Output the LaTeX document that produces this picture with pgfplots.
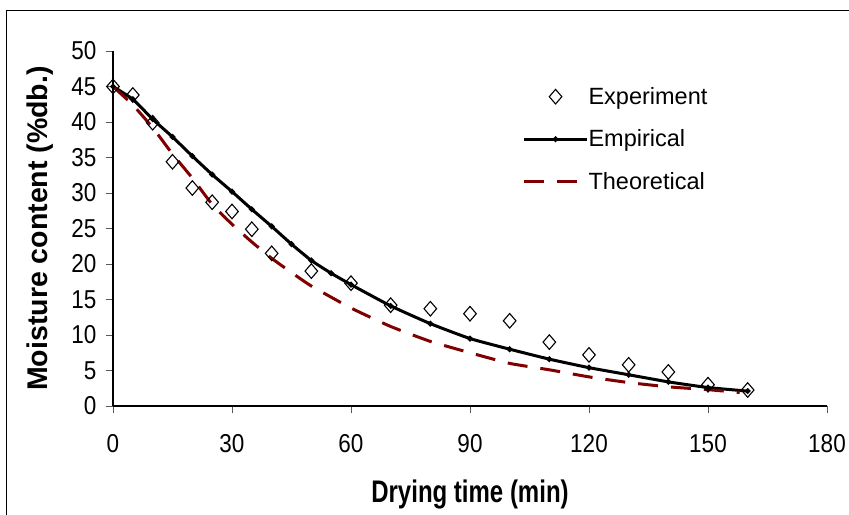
\documentclass[border=0pt]{standalone}
\usepackage{pgfplots}
\pgfplotsset{compat=1.18}
\usepackage{fontspec}
\setmainfont{Liberation Sans}
\definecolor{theo}{RGB}{128,0,0}
\begin{document}
\begin{tikzpicture}
\useasboundingbox (0bp,0bp) rectangle (849bp,-515bp);
\draw[line width=1.3bp] (6.5bp,-515bp) -- (6.5bp,-10.5bp) -- (849bp,-10.5bp);
\begin{axis}[
  at={(113bp,-406bp)}, anchor=south west,
  scale only axis, width=714bp, height=355bp,
  xmin=0, xmax=180, ymin=0, ymax=50,
  xtick={0,30,...,180}, ytick={0,5,...,50},
  axis lines=left, axis line style={-, line width=1.2bp, black},
  tick align=outside, major tick length=7bp,
  tick style={line width=1bp, gray!70!black},
  /pgf/number format/assume math mode=true,
  ticklabel style={font=\fontsize{22.5bp}{26bp}\selectfont, yscale=1.15},
  xticklabel style={yshift=-15.5bp},
  yticklabel style={xshift=-6bp},
  xlabel={Drying time (min)},
  ylabel={Moisture content (\%db.)},
  xlabel style={font=\bfseries\fontsize{24bp}{28bp}\selectfont, at={(axis description cs:0.5,-0.248)}, anchor=center, yscale=1.3},
  ylabel style={font=\bfseries\fontsize{28.5bp}{32bp}\selectfont, at={(axis description cs:-0.1022,0.5)}, anchor=center},
  legend image code/.code={\draw[mark repeat=2,mark phase=2,#1] plot coordinates {(0bp,0bp) (31.5bp,0bp) (63bp,0bp)};},
  legend style={at={(axis cs:103.2,44.9)}, anchor=north west, draw=none, fill=none,
    inner sep=0pt, row sep=24bp, font=\fontsize{23.5bp}{26bp}\selectfont,
    nodes={inner sep=0pt, anchor=west}, /tikz/column 2/.style={column sep=5bp}},
  legend cell align=left,
  clip=false,
]
\addplot[only marks, mark=diamond, mark size=7.3bp, mark options={xscale=1.15, line width=1.1bp, black, fill=white}] coordinates {
(0,45) (5,43.8) (10,39.9) (15,34.4) (20,30.7) (25,28.7) (30,27.4) (35,24.9) (40,21.5) (50,19.0) (60,17.3) (70,14.2) (80,13.7) (90,13.0) (100,12.0) (110,9.0) (120,7.2) (130,5.8) (140,4.8) (150,3.0) (160,2.25)
};
\addlegendentry{Experiment}
\addplot[black, line width=3bp, smooth, tension=0.3, mark=*, mark size=1.1bp, mark options={black}] coordinates {
(0,45) (5,43.2) (10,40.4) (15,37.9) (20,35.2) (25,32.6) (30,30.2) (35,27.7) (40,25.3) (45,22.8) (50,20.5) (55,18.7) (60,17.1) (70,14.1) (80,11.6) (90,9.5) (100,8.0) (110,6.6) (120,5.4) (130,4.4) (140,3.4) (150,2.6) (160,2.1)
};
\addlegendentry{Empirical}
\addplot[theo, line width=3bp, dash pattern=on 20bp off 13bp, smooth, tension=0.3] coordinates {
(0,45) (5,42.4) (10,39.2) (15,35.5) (20,32.1) (25,28.4) (30,25.6) (35,23.1) (40,20.8) (45,18.8) (50,16.9) (60,13.8) (70,11.2) (80,9.1) (90,7.5) (100,6.0) (110,5.1) (120,4.1) (130,3.3) (140,2.7) (150,2.3) (158,1.9)
};
\addlegendentry{Theoretical}
\end{axis}
\end{tikzpicture}
\end{document}
